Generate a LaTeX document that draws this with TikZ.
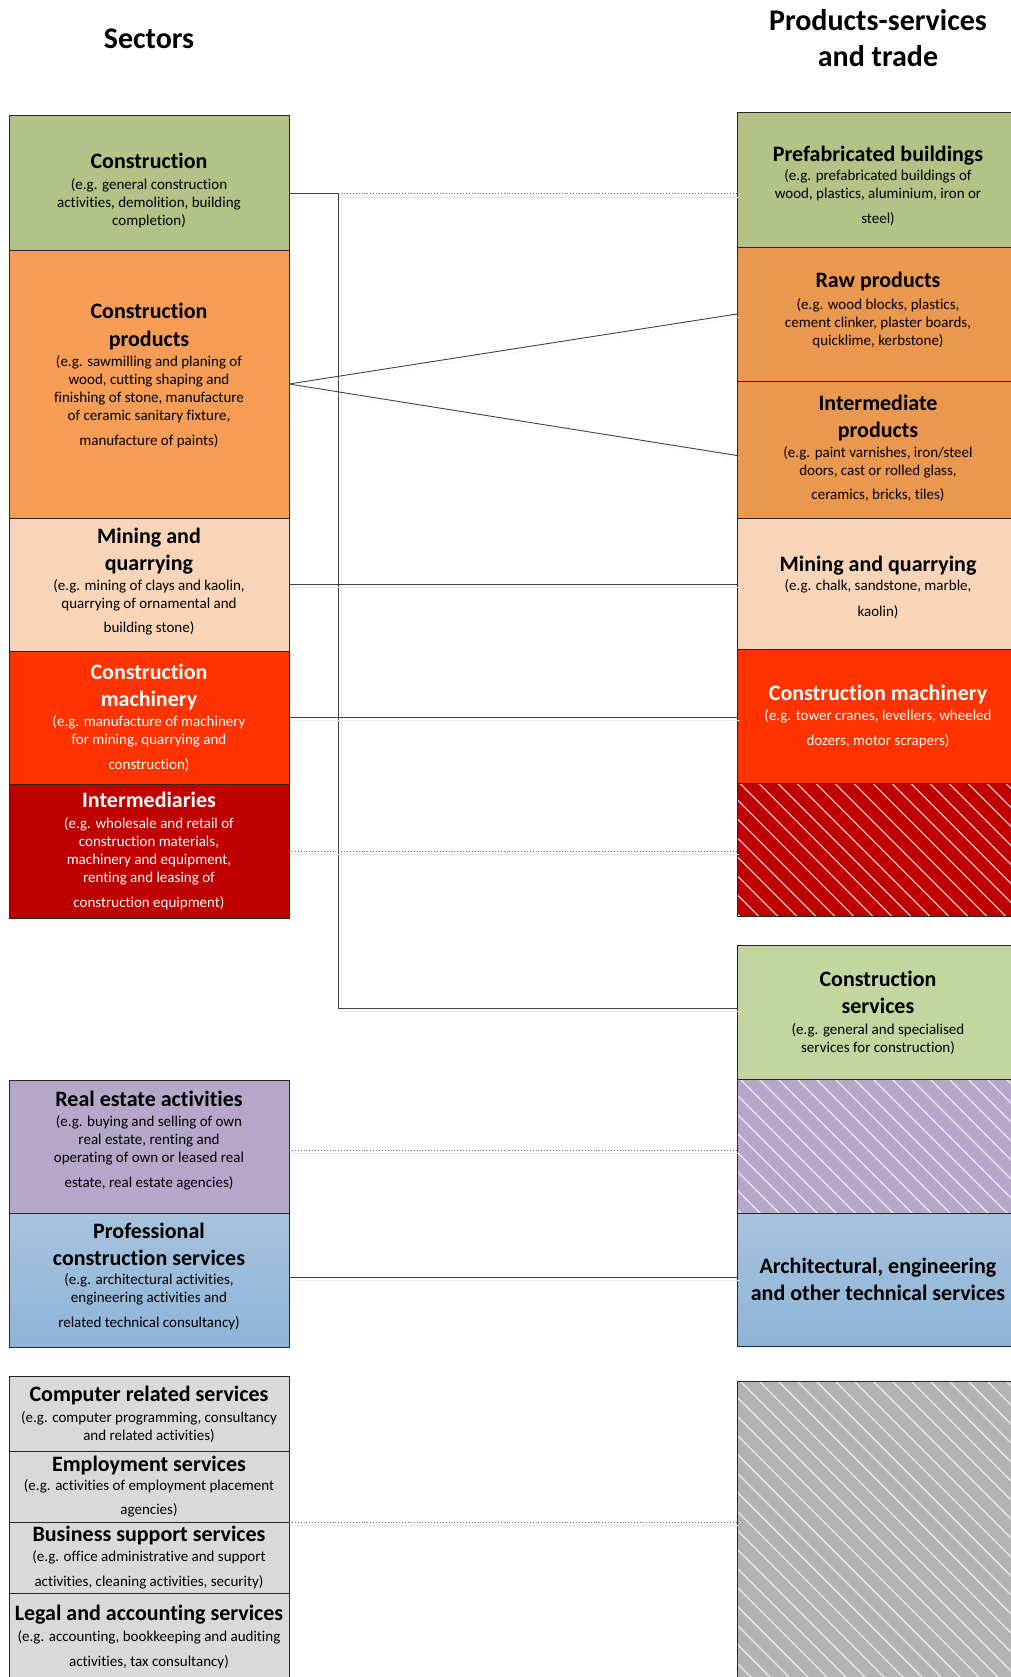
\documentclass[tikz,border=0pt]{standalone}
\usepackage{fontspec}
\setmainfont{Carlito}[Ligatures=NoCommon]
\usetikzlibrary{positioning}
\definecolor{cgreen}{HTML}{B3C286}
\definecolor{lgreen}{HTML}{C4D6A0}
\definecolor{corange}{HTML}{F59D56}
\definecolor{dorange}{HTML}{EA974F}
\definecolor{cpeach}{HTML}{F8D5B8}
\definecolor{cmach}{HTML}{FF3300}
\definecolor{cdark}{HTML}{C00000}
\definecolor{cpurple}{HTML}{B4A7CA}
\definecolor{bluetop}{HTML}{A6C2DC}
\definecolor{bluebot}{HTML}{8FB4D9}
\definecolor{lgrey}{HTML}{D9D9D9}
\definecolor{dgrey}{HTML}{B2B2B2}
\setlength{\lineskiplimit}{-50pt}
\newcommand\hd[1]{{\fontsize{22}{18}\selectfont\bfseries #1}}
\newcommand\fh[1]{\hd{\rule{0pt}{17pt}#1}}
\begin{document}
\begin{tikzpicture}[x=1pt, y=-1pt,
 sector/.style={draw=black!85, line width=.9pt, inner sep=0, outer sep=0, minimum width=280pt},
 product/.style={sector, minimum width=282pt},
 boxtext/.style={anchor=north, inner sep=0, align=center, font=\fontsize{15}{18}\selectfont},
 coltitle/.style={anchor=north, inner sep=0, align=center, font=\fontsize{30}{36.5}\selectfont\bfseries},
 link/.style={draw=black!75, line width=.9pt, preaction={draw=black!8, transform canvas={xshift=3pt, yshift=-3pt}}},
 dotlink/.style={draw=black!55, dotted, line width=.9pt, preaction={draw=black!10, transform canvas={xshift=2pt, yshift=-3pt}}},
 hatched/.style={path picture={
   \foreach \k in {-320,-301,...,300}
     \draw[white, opacity=.75, line width=1.2pt] ([xshift=\k]path picture bounding box.north west) -- ++(330pt,-330pt);
 }}]
\useasboundingbox (0,0) rectangle (1011,1677);

\node[coltitle] (sect) at (149,24) {\rule{0pt}{24pt}Sectors};
\node[coltitle] (prodt) at (878,6) {\rule{0pt}{24pt}Products-services\\and trade};

% sectors
\node[sector, fill=cgreen, minimum height=134.5pt, anchor=north west] (constr) at (9,115.5) {};
\node[sector, fill=corange, minimum height=268pt, below=0pt of constr] (cprod) {};
\node[sector, fill=cpeach, minimum height=133pt, below=0pt of cprod] (mining) {};
\node[sector, fill=cmach, minimum height=133pt, below=0pt of mining] (mach) {};
\node[sector, fill=cdark, minimum height=134pt, below=0pt of mach] (interm) {};
\node[sector, fill=cpurple, minimum height=133.5pt, anchor=north west] (realest) at (9,1080) {};
\node[sector, top color=bluetop, bottom color=bluebot, minimum height=133.5pt, below=0pt of realest] (prof) {};
\node[sector, fill=lgrey, minimum height=75pt, anchor=north west] (comp) at (9,1376) {};
\node[sector, fill=lgrey, minimum height=71pt, below=0pt of comp] (employ) {};
\node[sector, fill=lgrey, minimum height=71pt, below=0pt of employ] (busi) {};
\node[sector, fill=lgrey, minimum height=90pt, below=0pt of busi] (legal) {};

% products-services and trade
\node[product, fill=cgreen, minimum height=135pt, anchor=north west] (prefab) at (737,112) {};
\node[product, fill=dorange, minimum height=134pt, below=0pt of prefab] (raw) {};
\node[product, fill=dorange, minimum height=137pt, below=0pt of raw] (intprod) {};
\node[product, fill=cpeach, minimum height=131.5pt, below=0pt of intprod] (rmining) {};
\node[product, fill=cmach, minimum height=134pt, below=0pt of rmining] (rmach) {};
\node[product, fill=cdark, hatched, minimum height=132.5pt, below=0pt of rmach] (rinterm) {};
\node[product, fill=lgreen, minimum height=134pt, anchor=north west] (cserv) at (737,945) {};
\node[product, fill=cpurple, hatched, minimum height=134pt, below=0pt of cserv] (rreal) {};
\node[product, top color=bluetop, bottom color=bluebot, minimum height=133pt, below=0pt of rreal] (arch) {};
\node[product, fill=dgrey, hatched, minimum height=300pt, anchor=north west] (rbus) at (737,1381) {};

\node[boxtext] (constr-t) at ([yshift=-35.5pt]constr.north) {\fh{Construction}\\[3pt](e.g. general construction\\activities, demolition, building\\completion)};
\node[boxtext] (cprod-t) at ([yshift=-51.5pt]cprod.north) {\fh{Construction}\\[10pt]\hd{products}\\[2pt](e.g. sawmilling and planing of\\wood, cutting shaping and\\finishing of stone, manufacture\\of ceramic sanitary fixture,\\[7pt]manufacture of paints)};
\node[boxtext] (mining-t) at ([yshift=-8.5pt]mining.north) {\fh{Mining and}\\[9pt]\hd{quarrying}\\[1.5pt](e.g. mining of clays and kaolin,\\quarrying of ornamental and\\[6.5pt]building stone)};
\node[boxtext, text=white] (mach-t) at ([yshift=-11.5pt]mach.north) {\fh{Construction}\\[9pt]\hd{machinery}\\[1.5pt](e.g. manufacture of machinery\\for mining, quarrying and\\[7pt]construction)};
\node[boxtext, text=white] (interm-t) at ([yshift=-6.5pt]interm.north) {\fh{Intermediaries}\\[2.5pt](e.g. wholesale and retail of\\construction materials,\\machinery and equipment,\\renting and leasing of\\[7pt]construction equipment)};
\node[boxtext] (realest-t) at ([yshift=-9.5pt]realest.north) {\fh{Real estate activities}\\[1.5pt](e.g. buying and selling of own\\real estate, renting and\\operating of own or leased real\\[7.5pt]estate, real estate agencies)};
\node[boxtext] (prof-t) at ([yshift=-8pt]prof.north) {\fh{Professional}\\[9pt]\hd{construction services}\\[1pt](e.g. architectural activities,\\engineering activities and\\[7pt]related technical consultancy)};
\node[boxtext] (comp-t) at ([yshift=-8.5pt]comp.north) {\fh{Computer related services}\\[3pt](e.g. computer programming, consultancy\\and related activities)};
\node[boxtext] (employ-t) at ([yshift=-3pt]employ.north) {\fh{Employment services}\\[1pt](e.g. activities of employment placement\\[6.5pt]agencies)};
\node[boxtext] (busi-t) at ([yshift=-2.5pt]busi.north) {\fh{Business support services}\\[2pt](e.g. office administrative and support\\[6.5pt]activities, cleaning activities, security)};
\node[boxtext] (legal-t) at ([yshift=-10.5pt]legal.north) {\fh{Legal and accounting services}\\[2.5pt](e.g. accounting, bookkeeping and auditing\\[7.5pt]activities, tax consultancy)};

\node[boxtext] (prefab-t) at ([yshift=-32.5pt]prefab.north) {\fh{Prefabricated buildings}\\[1pt](e.g. prefabricated buildings of\\wood, plastics, aluminium, iron or\\[7pt]steel)};
\node[boxtext] (raw-t) at ([yshift=-23.5pt]raw.north) {\fh{Raw products}\\[3.5pt](e.g. wood blocks, plastics,\\cement clinker, plaster boards,\\quicklime, kerbstone)};
\node[boxtext] (intprod-t) at ([yshift=-12.5pt]intprod.north) {\fh{Intermediate}\\[9pt]\hd{products}\\[2pt](e.g. paint varnishes, iron/steel\\doors, cast or rolled glass,\\[6pt]ceramics, bricks, tiles)};
\node[boxtext] (rmining-t) at ([yshift=-36.5pt]rmining.north) {\fh{Mining and quarrying}\\[0.5pt](e.g. chalk, sandstone, marble,\\[8pt]kaolin)};
\node[boxtext, text=white] (rmach-t) at ([yshift=-34pt]rmach.north) {\fh{Construction machinery}\\[1.5pt](e.g. tower cranes, levellers, wheeled\\[7pt]dozers, motor scrapers)};
\node[boxtext] (cserv-t) at ([yshift=-24.5pt]cserv.north) {\fh{Construction}\\[9pt]\hd{services}\\[2.5pt](e.g. general and specialised\\services for construction)};
\node[boxtext] (arch-t) at ([yshift=-43pt]arch.north) {\fh{Architectural, engineering}\\[9pt]\hd{and other technical services}};

% links
\draw[dotlink] ([yshift=-11pt]constr.east) -- ([yshift=-11pt]constr.east -| prefab.west);
\draw[link] ([yshift=-11pt]constr.east) -- ++(49,0) |- ([yshift=4pt]cserv.west);
\draw[link] (cprod.east) -- (raw.west);
\draw[link] (cprod.east) -- ([yshift=-6pt]intprod.west);
\draw[link] (mining.east) -- (mining.east -| rmining.west);
\draw[link] (mach.east) -- (mach.east -| rmach.west);
\draw[dotlink] (interm.east) -- (interm.east -| rinterm.west);
\draw[dotlink] ([yshift=-3.5pt]realest.east) -- ([yshift=-3.5pt]realest.east -| rreal.west);
\draw[link] ([yshift=3pt]prof.east) -- ([yshift=3pt]prof.east -| arch.west);
\draw[dotlink] (employ.south east) -- (employ.south east -| rbus.west);
\end{tikzpicture}
\end{document}
